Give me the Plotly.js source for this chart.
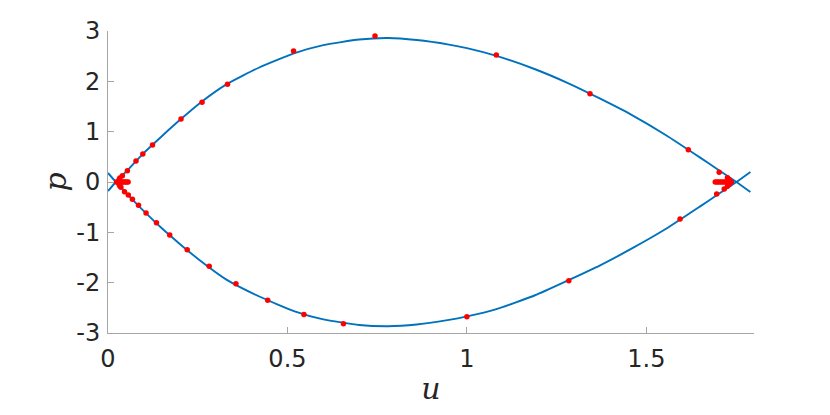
<!DOCTYPE html>
<html>
<head>
<meta charset="utf-8">
<script src="https://cdn.plot.ly/plotly-3.0.1.min.js"></script>
<style>
  html, body { margin: 0; padding: 0; background: #fff; }
  #plot { width: 830px; height: 415px; }
</style>
</head>
<body>
<div id="plot"></div>
<script>
// separatrix curves
const uCurve = [0, 0.022, 0.055, 0.1, 0.15, 0.2, 0.26, 0.33, 0.42, 0.52, 0.6, 0.7, 0.78,
  0.86, 0.95, 1.0, 1.08, 1.19, 1.28, 1.37, 1.46, 1.555, 1.65, 1.70, 1.751, 1.79];
const pUpper = [-0.18, 0, 0.24, 0.58, 0.91, 1.23, 1.59, 1.94, 2.27, 2.56, 2.72, 2.83, 2.86,
  2.82, 2.73, 2.66, 2.51, 2.24, 1.97, 1.66, 1.33, 0.93, 0.485, 0.245, 0, -0.2];
const pLower = [0.18, 0, -0.25, -0.58, -0.92, -1.23, -1.58, -1.94, -2.27, -2.57, -2.73, -2.84, -2.865,
  -2.83, -2.74, -2.67, -2.53, -2.25, -1.96, -1.66, -1.32, -0.93, -0.485, -0.245, 0, 0.2];

// sampled points (red)
const uDots = [
  0.040, 0.054, 0.078, 0.097, 0.124, 0.2035, 0.262, 0.333, 0.517, 0.744, 1.082, 1.343, 1.617, 1.703,
  0.036, 0.046, 0.0566, 0.068, 0.085, 0.106, 0.135, 0.172, 0.2207, 0.282, 0.3565, 0.445, 0.546, 0.656,
  1.0, 1.284, 1.594, 1.696, 1.717,
  0.024, 0.027, 0.030, 0.033, 0.036, 0.040, 0.044, 0.048, 0.052, 0.056,
  0.031, 0.033, 0.031, 0.033,
  1.692, 1.697, 1.702, 1.707, 1.712, 1.717, 1.722, 1.727, 1.732, 1.737,
  1.726, 1.731, 1.731, 1.726
];
const pDots = [
  0.122, 0.225, 0.417, 0.556, 0.735, 1.252, 1.583, 1.941, 2.603, 2.90, 2.523, 1.755, 0.642, 0.192,
  -0.106, -0.192, -0.259, -0.345, -0.464, -0.616, -0.808, -1.053, -1.344, -1.676, -2.020, -2.351, -2.630, -2.815,
  -2.675, -1.961, -0.735, -0.238, -0.139,
  0, 0, 0, 0, 0, 0, 0, 0, 0, 0,
  0.05, 0.08, -0.05, -0.08,
  0, 0, 0, 0, 0, 0, 0, 0, 0, 0,
  0.085, 0.045, -0.045, -0.085
];

const xTicks = [0, 0.5, 1, 1.5];
const xTickLabels = ['0', '0.5', '1', '1.5'];
const yTicks = [-3, -2, -1, 0, 1, 2, 3];
const yTickLabels = ['-3', '-2', '-1', '0', '1', '2', '3'];

const lineStyle = { color: '#0072BD', width: 1.9, shape: 'spline', smoothing: 0.5 };

const traces = [
  { x: uCurve, y: pUpper, mode: 'lines', type: 'scatter', line: lineStyle, hoverinfo: 'skip' },
  { x: uCurve, y: pLower, mode: 'lines', type: 'scatter', line: lineStyle, hoverinfo: 'skip' },
  { x: uDots, y: pDots, mode: 'markers', type: 'scatter',
    marker: { color: '#ff0000', size: 5.5, line: { width: 0 } } }
];

const axisCommon = {
  showgrid: false,
  zeroline: false,
  showline: true,
  linecolor: '#a6a6a6',
  linewidth: 1,
  ticks: 'inside',
  ticklen: 6,
  tickwidth: 1,
  tickcolor: '#a6a6a6',
  tickfont: { family: 'DejaVu Sans, sans-serif', size: 24, color: '#262626' },
  mirror: false
};

const layout = {
  width: 830,
  height: 415,
  margin: { l: 108, r: 76, t: 31, b: 82 },
  paper_bgcolor: '#ffffff',
  plot_bgcolor: '#ffffff',
  showlegend: false,
  xaxis: Object.assign({}, axisCommon, {
    range: [0, 1.8],
    tickvals: xTicks,
    ticktext: xTickLabels,
    ticklabelstandoff: 4,
    title: { text: '<i>u</i>', font: { family: 'DejaVu Serif, serif', size: 30, color: '#262626' }, standoff: 6 }
  }),
  yaxis: Object.assign({}, axisCommon, {
    range: [-3, 3],
    tickvals: yTicks,
    ticktext: yTickLabels,
    ticklabelstandoff: 2,
    title: { text: '<i>p</i>', font: { family: 'DejaVu Serif, serif', size: 30, color: '#262626' }, standoff: 0 }
  })
};

Plotly.newPlot('plot', traces, layout, { displayModeBar: false, staticPlot: true });
</script>
</body>
</html>
